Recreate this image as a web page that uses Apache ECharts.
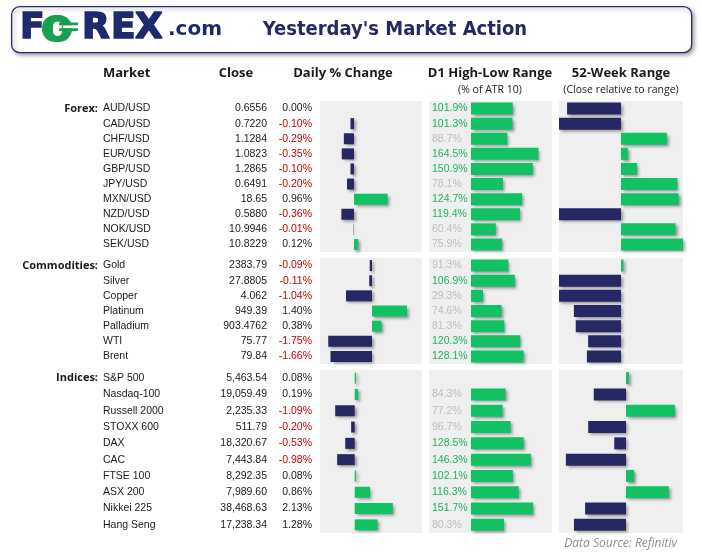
<!DOCTYPE html>
<html><head><meta charset="utf-8">
<script src="https://cdn.jsdelivr.net/npm/echarts@6/dist/echarts.min.js"></script>
<style>html,body{margin:0;padding:0;background:#fff}#c{width:702px;height:557px}</style>
</head><body><div id="c"></div>
<script>
// ---------- DATA ----------
const sectionLabels = ['Forex:', 'Commodities:', 'Indices:'];

const forexNames = ['AUD/USD','CAD/USD','CHF/USD','EUR/USD','GBP/USD','JPY/USD','MXN/USD','NZD/USD','NOK/USD','SEK/USD'];
const forexClose = ['0.6556','0.7220','1.1284','1.0823','1.2865','0.6491','18.65','0.5880','10.9946','10.8229'];
const forexPct   = [0.00,-0.10,-0.29,-0.35,-0.10,-0.20,0.96,-0.36,-0.01,0.12];
const forexD1    = [101.9,101.3,88.7,164.5,150.9,78.1,124.7,119.4,60.4,75.9];
const forex52w   = [-0.87,-1.00,0.74,0.11,0.26,0.91,0.93,-1.00,0.88,1.00];

const commNames = ['Gold','Silver','Copper','Platinum','Palladium','WTI','Brent'];
const commClose = ['2383.79','27.8805','4.062','949.39','903.4762','75.77','79.84'];
const commPct   = [-0.09,-0.11,-1.04,1.40,0.38,-1.75,-1.66];
const commD1    = [91.3,106.9,29.3,74.6,81.3,120.3,128.1];
const comm52w   = [0.04,-1.00,-1.00,-0.76,-0.73,-0.53,-0.55];

const idxNames = ['S&P 500','Nasdaq-100','Russell 2000','STOXX 600','DAX','CAC','FTSE 100','ASX 200','Nikkei 225','Hang Seng'];
const idxClose = ['5,463.54','19,059.49','2,235.33','511.79','18,320.67','7,443.84','8,292.35','7,989.60','38,468.63','17,238.34'];
const idxPct   = [0.08,0.19,-1.09,-0.20,-0.53,-0.98,0.08,0.86,2.13,1.28];
const idxD1    = [null,84.3,77.2,96.7,128.5,146.3,102.1,116.3,151.7,80.3];
const idx52w   = [0.05,-0.52,0.79,-0.61,-0.19,-0.97,0.13,0.69,-0.66,-0.84];

const headers = ['Market','Close','Daily % Change','D1 High-Low Range','52-Week Range'];
const subHeaders = ['(% of ATR 10)','(Close relative to range)'];
const titleText = "Yesterday's Market Action";
const sourceText = 'Data Source: Refinitiv';

// ---------- STYLE / LAYOUT ----------
const NAVY = '#262863', GREEN = '#12c164', BG = '#efefef', RED = '#c00000', TXT = '#1a1a1a';
const BODY = '"Liberation Sans", Arial, sans-serif';
const HEAD = '"Open Sans", "Noto Sans", sans-serif';
const shadow = {shadowBlur: 3, shadowColor: 'rgba(0,0,0,0.38)', shadowOffsetX: 2, shadowOffsetY: 2};

const sections = [
  {names: forexNames, close: forexClose, pct: forexPct, d1: forexD1, wk: forex52w},
  {names: commNames, close: commClose, pct: commPct, d1: commD1, wk: comm52w},
  {names: idxNames, close: idxClose, pct: idxPct, d1: idxD1, wk: idx52w}
];
const layout = [
  {top: 101, h: 151, pct: [-0.971, 1.943], wk: [-1, 1]},
  {top: 258, h: 106, pct: [-2.08, 2.0], wk: [-1, 1]},
  {top: 370, h: 163, pct: [-1.94, 3.76], wk: [-1.081, 0.919]}
];

const grid = [], xAxis = [], yAxis = [], series = [];
const hiddenX = (min, max, gi) => ({type: 'value', gridIndex: gi, min, max, show: false});
function catY(gi, names, label, extra) {
  return Object.assign({
    type: 'category', gridIndex: gi, data: names, inverse: true, position: 'left',
    axisLine: {show: false}, axisTick: {show: false}, splitLine: {show: false},
    axisLabel: Object.assign({interval: 0, fontFamily: BODY, fontSize: 10.5, color: TXT}, label)
  }, extra || {});
}

sections.forEach((s, si) => {
  const L = layout[si];
  // Daily % change grid, with the text columns as its category-axis labels
  let gi = grid.length;
  grid.push({left: 320, width: 102, top: L.top, height: L.h, show: true, backgroundColor: BG, borderWidth: 0});
  xAxis.push(hiddenX(L.pct[0], L.pct[1], gi));
  const mainY = yAxis.length;
  yAxis.push(catY(gi, s.names, {
    margin: 8, align: 'right',
    formatter: (v, i) => s.pct[i].toFixed(2) + '%',
    color: (v, i) => (s.pct[i] < 0 ? RED : TXT)
  }));
  yAxis.push(catY(gi, s.names, {margin: 8, align: 'right', formatter: (v, i) => s.close[i]}, {offset: 45}));
  yAxis.push(catY(gi, s.names, {margin: 8, align: 'left'}, {offset: 209}));
  yAxis.push(catY(gi, s.names, {
    margin: 8, align: 'right', fontFamily: HEAD, fontWeight: 'bold', fontSize: 11,
    formatter: (v, i) => (i === 0 ? sectionLabels[si] : '')
  }, {offset: 214}));
  series.push({
    type: 'bar', xAxisIndex: gi, yAxisIndex: mainY, barWidth: 11, silent: true,
    data: s.pct.map(v => ({value: v, itemStyle: Object.assign({color: v < 0 ? NAVY : GREEN}, shadow)}))
  });

  // D1 high-low grid
  gi = grid.length;
  grid.push({left: 429, width: 123, top: L.top, height: L.h, show: true, backgroundColor: BG, borderWidth: 0});
  xAxis.push(hiddenX(-102.4, 197.6, gi));
  let yi = yAxis.length;
  yAxis.push(catY(gi, s.names, {
    inside: true, margin: 3, align: 'left',
    formatter: (v, i) => (s.d1[i] == null ? '' : s.d1[i].toFixed(1) + '%'),
    color: (v, i) => (s.d1[i] != null && s.d1[i] >= 100 ? '#1db45c' : '#bdbdbd')
  }));
  series.push({
    type: 'bar', xAxisIndex: gi, yAxisIndex: yi, barWidth: 12, silent: true,
    data: s.d1.map(v => ({value: v, itemStyle: Object.assign({color: GREEN}, shadow)}))
  });

  // 52-week range grid
  gi = grid.length;
  grid.push({left: 559, width: 124, top: L.top, height: L.h, show: true, backgroundColor: BG, borderWidth: 0});
  xAxis.push(hiddenX(L.wk[0], L.wk[1], gi));
  yi = yAxis.length;
  yAxis.push(catY(gi, s.names, {show: false}));
  series.push({
    type: 'bar', xAxisIndex: gi, yAxisIndex: yi, barWidth: 12, silent: true,
    data: s.wk.map(v => ({value: v, itemStyle: Object.assign({color: v < 0 ? NAVY : GREEN}, shadow)}))
  });
});

const LOGO_NAVY = '#1d2a6b', LOGO_GREEN = '#17a050';
const logoStyle = (t) => ({text: t, font: 'bold 36px "DejaVu Sans", sans-serif', fill: LOGO_NAVY, stroke: LOGO_NAVY, lineWidth: 1.6, textVerticalAlign: 'middle'});
const graphic = [
  {type: 'rect', left: 11, top: 6, shape: {width: 680, height: 46, r: 8},
   style: {fill: '#fff', stroke: '#2b2d6e', lineWidth: 1.3, shadowBlur: 4, shadowColor: 'rgba(0,0,0,0.35)', shadowOffsetX: 2, shadowOffsetY: 2}, z: 1},
  {type: 'text', x: 20, y: 29, z: 2, style: logoStyle('F')},
  // stylised green "O" with currency bars
  {type: 'rect', z: 2, shape: {x: 42, y: 15, width: 30, height: 27, r: 13}, style: {fill: LOGO_GREEN}},
  {type: 'rect', z: 3, shape: {x: 53, y: 21.5, width: 9, height: 14.5, r: 4.5}, style: {fill: '#fff'}},
  {type: 'rect', z: 3, shape: {x: 63, y: 25.3, width: 12, height: 3}, style: {fill: '#fff'}},
  {type: 'rect', z: 4, shape: {x: 59, y: 22.5, width: 19, height: 2.8}, style: {fill: LOGO_GREEN}},
  {type: 'rect', z: 4, shape: {x: 59, y: 28.3, width: 19, height: 2.8}, style: {fill: LOGO_GREEN}},
  {type: 'text', x: 82, y: 29, z: 2, style: logoStyle('R')},
  {type: 'text', x: 111, y: 29, z: 2, style: logoStyle('E')},
  {type: 'text', x: 135, y: 29, z: 2, style: logoStyle('X')},
  {type: 'text', x: 168, y: 30, z: 2, style: {text: '.com', font: 'bold 20px "DejaVu Sans", sans-serif', fill: LOGO_NAVY, textVerticalAlign: 'middle'}},
  {type: 'text', x: 395, y: 30, z: 2, style: {text: titleText, font: 'bold 20px "Liberation Sans Narrow", "DejaVu Sans Condensed", sans-serif', fill: '#262863', textAlign: 'center', textVerticalAlign: 'middle'}},
  {type: 'text', x: 103, y: 73, style: {text: headers[0], font: 'bold 13px ' + HEAD, fill: TXT, textAlign: 'left', textVerticalAlign: 'middle'}},
  {type: 'text', x: 236, y: 73, style: {text: headers[1], font: 'bold 13px ' + HEAD, fill: TXT, textAlign: 'center', textVerticalAlign: 'middle'}},
  {type: 'text', x: 343, y: 73, style: {text: headers[2], font: 'bold 13px ' + HEAD, fill: TXT, textAlign: 'center', textVerticalAlign: 'middle'}},
  {type: 'text', x: 490, y: 73, style: {text: headers[3], font: 'bold 13px ' + HEAD, fill: TXT, textAlign: 'center', textVerticalAlign: 'middle'}},
  {type: 'text', x: 621, y: 73, style: {text: headers[4], font: 'bold 13px ' + HEAD, fill: TXT, textAlign: 'center', textVerticalAlign: 'middle'}},
  {type: 'text', x: 490, y: 90, style: {text: subHeaders[0], font: '10.5px ' + HEAD, fill: TXT, textAlign: 'center', textVerticalAlign: 'middle'}},
  {type: 'text', x: 621, y: 90, style: {text: subHeaders[1], font: '10.5px ' + HEAD, fill: TXT, textAlign: 'center', textVerticalAlign: 'middle'}},
  {type: 'text', x: 677, y: 544, style: {text: sourceText, font: 'italic 12px ' + HEAD, fill: '#8c8c8c', textAlign: 'right', textVerticalAlign: 'middle'}}
];

const chart = echarts.init(document.getElementById('c'), null, {renderer: 'canvas'});
chart.setOption({animation: false, backgroundColor: '#fff', grid, xAxis, yAxis, series, graphic});
</script></body></html>
